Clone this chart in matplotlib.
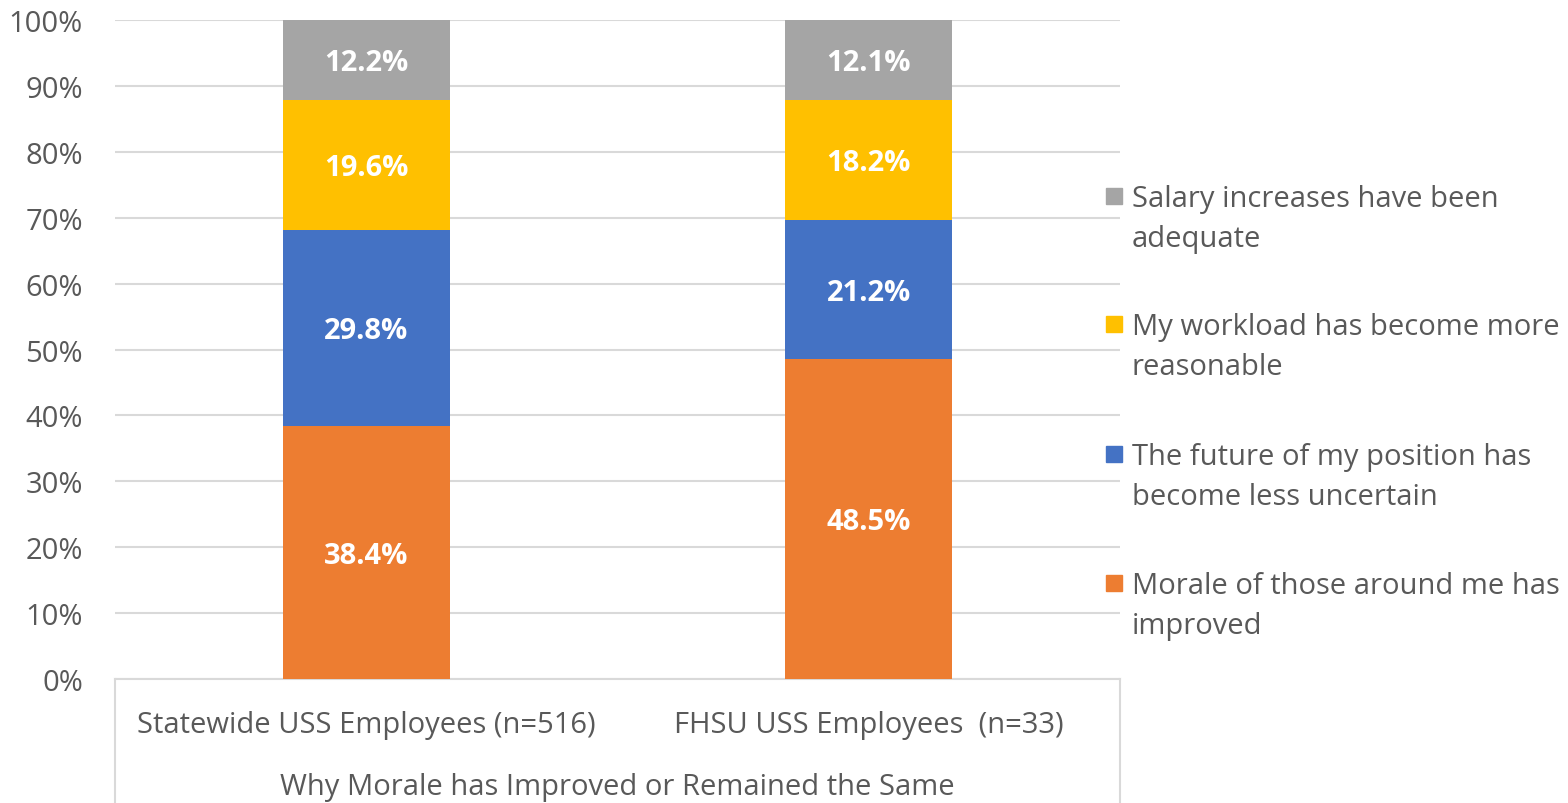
import numpy as np
import matplotlib.pyplot as plt
from matplotlib.lines import Line2D
from matplotlib.patches import Rectangle

plt.rcParams['font.family'] = ['Open Sans', 'DejaVu Sans']

categories = ['Statewide USS Employees (n=516)', 'FHSU USS Employees  (n=33)']
series = ['Morale of those around me has\nimproved',
          'The future of my position has\nbecome less uncertain',
          'My workload has become more\nreasonable',
          'Salary increases have been\nadequate']
morale = [38.4, 48.5]
future = [29.8, 21.2]
workload = [19.6, 18.2]
salary = [12.2, 12.1]
colors = ['#ED7D31', '#4472C4', '#FFC000', '#A5A5A5']
axis_title = 'Why Morale has Improved or Remained the Same'

txt = '#595959'
fs = 21
fig = plt.figure(figsize=(15.68, 8.04), dpi=100)
ax = fig.add_axes([115 / 1568, 1 - 680 / 804, 1005 / 1568, 659 / 804])

x = np.arange(len(categories))
bottom = np.zeros(len(categories))
for vals, col in zip([morale, future, workload, salary], colors):
    bars = ax.bar(x, vals, 0.332, bottom=bottom, color=col, zorder=3)
    for b, v, y0 in zip(bars, vals, bottom):
        ax.annotate(f'{v:.1f}%', (b.get_x() + b.get_width() / 2, y0 + v / 2),
                    xytext=(0, -2), textcoords='offset points',
                    ha='center', va='center', color='white', fontsize=fs,
                    fontweight='bold', zorder=4)
    bottom += np.array(vals)

ax.set_xlim(-0.5, 1.5)
ax.set_ylim(0, 100)
ax.set_yticks(np.arange(0, 101, 10))
ax.set_yticklabels([f'{t}%' for t in range(0, 101, 10)])
ax.tick_params(axis='y', length=0, labelsize=fs, labelcolor=txt, pad=23)
ax.tick_params(axis='x', length=0, labelsize=fs, labelcolor=txt, pad=22)
ax.set_xticks(x)
ax.set_xticklabels(categories)
ax.grid(axis='y', color='#D9D9D9', linewidth=1.5, zorder=0)
for s in ['top', 'right', 'left']:
    ax.spines[s].set_visible(False)
ax.spines['bottom'].set_color('#D9D9D9')
ax.spines['bottom'].set_linewidth(1.5)
ax.set_xlabel(axis_title, fontsize=fs, color=txt, labelpad=24)

# category box sides below the axis
for xa in [0, 1]:
    ax.add_line(Line2D([xa, xa], [0, -0.2], transform=ax.transAxes,
                       color='#D9D9D9', linewidth=1.5, clip_on=False))

# legend, top entry first
ys = [197, 325, 455, 584]
for yy, lab, col in zip(ys, series[::-1], colors[::-1]):
    fig.patches.append(Rectangle((1106 / 1568, 1 - (yy + 8) / 804), 16 / 1568, 16 / 804,
                                 transform=fig.transFigure, color=col))
    fig.text(1132 / 1568, 1 - (yy + 22.5) / 804, lab, ha='left', va='center',
             fontsize=fs, color=txt, linespacing=1.49)

fig.savefig('out.png', dpi=100)
